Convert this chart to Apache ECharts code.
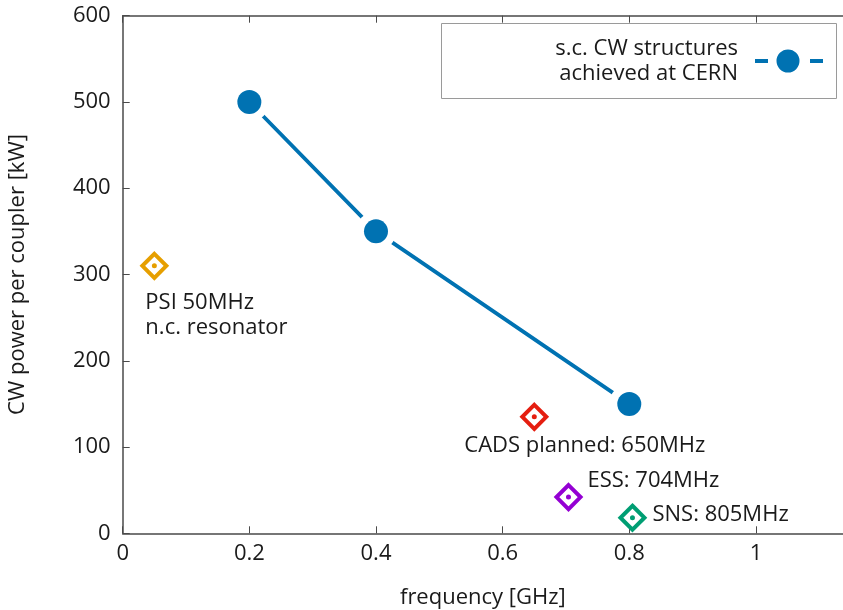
<!DOCTYPE html>
<html>
<head>
<meta charset="utf-8">
<script src="https://cdn.jsdelivr.net/npm/echarts@6/dist/echarts.min.js"></script>
<style>
  html, body { margin: 0; padding: 0; background: #fff; }
  #chart { width: 843px; height: 610px; }
</style>
</head>
<body>
<div id="chart"></div>
<script>
// Superconducting CW structures achieved at CERN
const cernFreq = [0.2, 0.4, 0.8];          // GHz
const cernPower = [500, 350, 150];         // kW per coupler

// Other machines for comparison
const siteNames = ['PSI 50MHz\nn.c. resonator', 'CADS planned: 650MHz', 'ESS: 704MHz', 'SNS: 805MHz'];
const siteFreq = [0.05, 0.65, 0.704, 0.805];
const sitePower = [310, 135, 42, 18];
const siteColors = ['#e69f00', '#e51e10', '#9400d3', '#009e73'];
const siteLabelOffsets = [[-9, 49], [-70, 29], [19, -16], [20, -3]];

const xTicks = [0, 0.2, 0.4, 0.6, 0.8, 1];
const yTicks = [0, 100, 200, 300, 400, 500, 600];

const FONT = 'Open Sans';
const FS = 22;
const TEXT = '#1a1a1a';
const AXIS = '#4a4a4a';

const cernPts = cernFreq.map((f, i) => [f, cernPower[i]]);
const sitePts = siteFreq.map((f, i) => [f, sitePower[i]]);

const chart = echarts.init(document.getElementById('chart'), null, { renderer: 'canvas' });

const baseX = {
  type: 'value', min: 0, max: 1.1375, interval: 0.2,
  axisLine: { show: true, lineStyle: { color: AXIS, width: 1.5 } },
  axisTick: { show: true, inside: true, length: 7, lineStyle: { color: AXIS, width: 1 } },
  splitLine: { show: false }
};

chart.setOption({
  animation: false,
  backgroundColor: '#fff',
  textStyle: { fontFamily: FONT },
  grid: { left: 122.7, right: 0, top: 15.7, bottom: 76.7, containLabel: false, outerBoundsMode: 'none' },
  xAxis: [
    Object.assign({}, baseX, {
      position: 'bottom',
      name: 'frequency [GHz]', nameLocation: 'middle', nameGap: 53,
      nameTextStyle: { fontFamily: FONT, fontSize: FS, color: TEXT },
      axisLabel: {
        fontFamily: FONT, fontSize: FS, color: TEXT, margin: 9, showMaxLabel: false,
        formatter: v => (xTicks.indexOf(Math.round(v * 10) / 10) >= 0 ? String(Math.round(v * 10) / 10) : '')
      }
    }),
    Object.assign({}, baseX, { position: 'top', axisLabel: { show: false } })
  ],
  yAxis: {
    type: 'value', min: yTicks[0], max: yTicks[yTicks.length - 1], interval: 100,
    name: 'CW power per coupler [kW]', nameLocation: 'middle', nameGap: 94,
    nameTextStyle: { fontFamily: FONT, fontSize: FS, color: TEXT },
    axisLine: { show: true, lineStyle: { color: AXIS, width: 1.5 } },
    axisTick: { show: true, inside: true, length: 7, lineStyle: { color: AXIS, width: 1 } },
    axisLabel: { fontFamily: FONT, fontSize: FS, color: TEXT, margin: 12 },
    splitLine: { show: false }
  },
  legend: {
    orient: 'vertical', right: 20, top: 36, align: 'right',
    itemWidth: 68, itemHeight: 23, itemGap: 0, padding: 0,
    selectedMode: false,
    data: [{ name: 'CERN', icon: 'path://M0,9.5h13v4h-13z M21.5,11.5a11.5,11.5 0 1,0 23,0a11.5,11.5 0 1,0 -23,0z M55,9.5h13v4h-13z' }],
    formatter: () => 's.c. CW structures\nachieved at CERN',
    textStyle: { fontFamily: FONT, fontSize: FS, lineHeight: 25, color: TEXT, padding: [0, 12, 0, 0] }
  },
  graphic: [{
    type: 'rect', z: 0,
    shape: { x: 441.5, y: 23.5, width: 395, height: 75 },
    style: { fill: '#fff', stroke: '#9a9a9a', lineWidth: 1 }
  }],
  series: [
    {
      name: 'CERN', type: 'line', data: cernPts, z: 2,
      color: '#0072b2',
      showSymbol: false, symbol: 'none',
      lineStyle: { color: '#0072b2', width: 3.8 }
    },
    {
      // white halo that opens a gap in the line round each point
      name: 'halo', type: 'scatter', data: cernPts, z: 3,
      symbol: 'circle', symbolSize: 40, silent: true,
      itemStyle: { color: '#fff', opacity: 1 }
    },
    {
      name: 'CERN points', type: 'scatter', data: cernPts, z: 4,
      symbol: 'circle', symbolSize: 24,
      itemStyle: { color: '#0072b2', opacity: 1 }
    },
    {
      name: 'sites', type: 'scatter', z: 5,
      data: sitePts.map((p, i) => ({
        value: p,
        itemStyle: { color: '#fff', borderColor: siteColors[i], borderWidth: 4, opacity: 1 },
        label: {
          show: true, position: 'inside', align: 'left', verticalAlign: 'middle',
          offset: siteLabelOffsets[i], formatter: siteNames[i],
          fontFamily: FONT, fontSize: FS, lineHeight: 25, color: TEXT
        }
      })),
      symbol: 'diamond', symbolSize: 24
    },
    {
      name: 'site dots', type: 'scatter', z: 6, silent: true,
      data: sitePts.map((p, i) => ({ value: p, itemStyle: { color: siteColors[i], opacity: 1 } })),
      symbol: 'circle', symbolSize: 5
    }
  ]
});
</script>
</body>
</html>
